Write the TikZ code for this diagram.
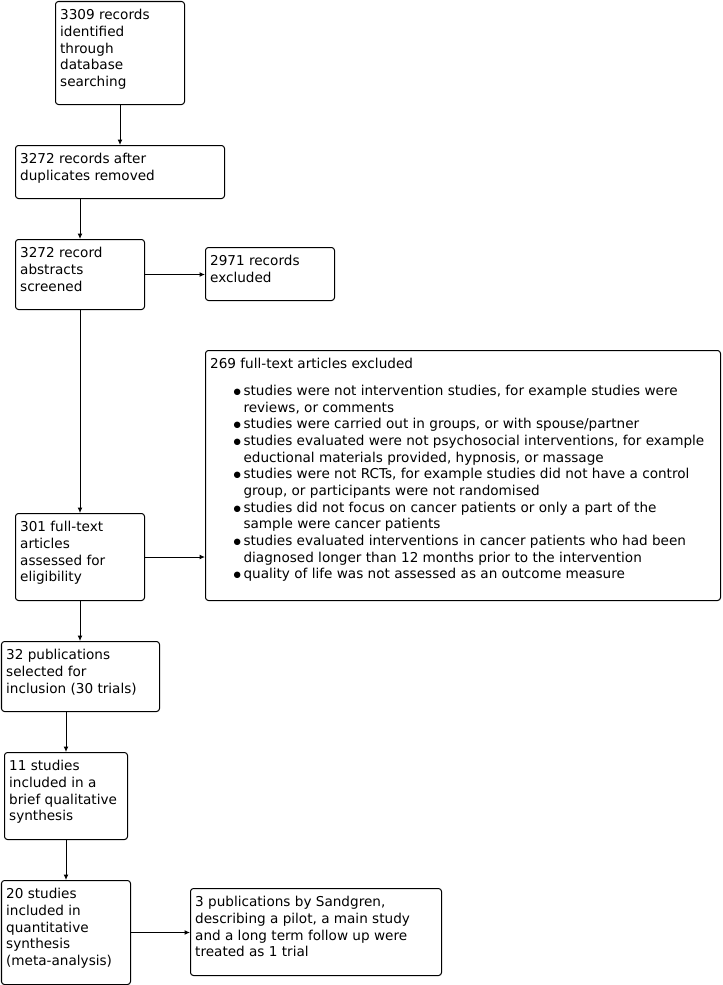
\documentclass[tikz,border=0pt]{standalone}
\usepackage{fontspec}
\setmainfont{DejaVu Sans}
\usetikzlibrary{arrows.meta}
\newdimen\pxu \pxu=0.75pt
% box text: width, height (in px), lines
\newcommand{\bt}[3]{\parbox[c][\dimexpr#2\pxu-12pt\relax][t]{\dimexpr#1\pxu-7pt\relax}{\raggedright#3}}
\newcommand{\itm}{\hspace*{17.5pt}\makebox[7.5pt][l]{\raisebox{0.8pt}{\fontsize{6.3pt}{6.3pt}\selectfont ●}}}
\newcommand{\cnt}{\hspace*{25pt}}

\begin{document}
\begin{tikzpicture}[x=0.75pt,y=-0.75pt,line width=0.75pt,font=\fontsize{10.2pt}{12.5pt}\selectfont,
	b/.style={draw,rounded corners=2.2pt,anchor=north west,inner xsep=3.5pt,inner ysep=6pt},
	a/.style={-{Latex[length=4pt,width=3.6pt]}}]
	\useasboundingbox (0,0) rectangle (723,985);
	\node[b] (ident) at (55,1) {\bt{129}{103}{3309 records\\identified\\through\\database\\searching}};
	\node[b] (dupl) at (15,145) {\bt{209}{53}{3272 records after\\duplicates removed}};
	\node[b] (screen) at (15,239) {\bt{129}{70}{3272 record\\abstracts\\screened}};
	\node[b] (excl) at (205,247) {\bt{129}{53}{2971 records\\excluded}};
	\node[b] (ftex) at (205,350) {\bt{515}{250}{269 full-text articles excluded\\[7.5pt]
		\itm studies were not intervention studies, for example studies were\\
		\cnt reviews, or comments\\
		\itm studies were carried out in groups, or with spouse/partner\\
		\itm studies evaluated were not psychosocial interventions, for example\\
		\cnt eductional materials provided, hypnosis, or massage\\
		\itm studies were not RCTs, for example studies did not have a control\\
		\cnt group, or participants were not randomised\\
		\itm studies did not focus on cancer patients or only a part of the\\
		\cnt sample were cancer patients\\
		\itm studies evaluated interventions in cancer patients who had been\\
		\cnt diagnosed longer than 12 months prior to the intervention\\
		\itm quality of life was not assessed as an outcome measure}};
	\node[b] (elig) at (15,513) {\bt{129}{87}{301 full-text\\articles\\assessed for\\eligibility}};
	\node[b] (incl) at (1,641) {\bt{158}{70}{32 publications\\selected for\\inclusion (30 trials)}};
	\node[b] (qual) at (4,752) {\bt{123}{87}{11 studies\\included in a\\brief qualitative\\synthesis}};
	\node[b] (quant) at (1,880) {\bt{129}{104}{20 studies\\included in\\quantitative\\synthesis\\(meta-analysis)}};
	\node[b] (sand) at (190,888) {\bt{251}{87}{3 publications by Sandgren,\\describing a pilot, a main study\\and a long term follow up were\\treated as 1 trial}};
	\draw[a] (ident.south) -- (dupl.north);
	\draw[a] (screen.north |- dupl.south) -- (screen.north);
	\draw[a] (screen.east) -- (screen.east -| excl.west);
	\draw[a] (screen.south) -- (elig.north);
	\draw[a] (elig.east) -- (elig.east -| ftex.west);
	\draw[a] (elig.south) -- (elig.south |- incl.north);
	\draw[a] (qual.north |- incl.south) -- (qual.north);
	\draw[a] (qual.south) -- (quant.north);
	\draw[a] (quant.east) -- (quant.east -| sand.west);
\end{tikzpicture}
\end{document}
